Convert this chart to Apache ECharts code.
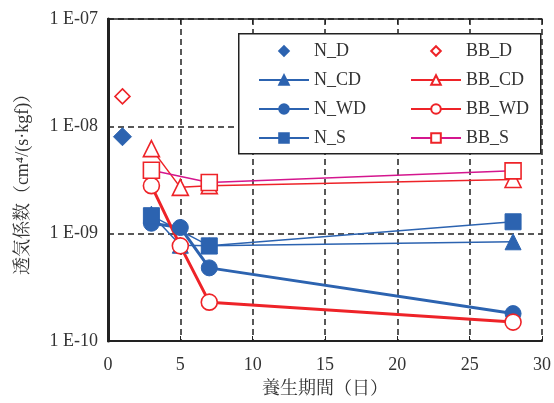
<!DOCTYPE html>
<html><head><meta charset="utf-8">
<script src="https://cdn.jsdelivr.net/npm/echarts@6/dist/echarts.min.js"></script>
<style>html,body{margin:0;padding:0;background:#fff}#c{width:554px;height:403px}</style>
</head><body><div id="c"></div>
<script>
// Data
const xTicks = [0, 5, 10, 15, 20, 25, 30];
const yTickLabels = ['1 E-10', '1 E-09', '1 E-08', '1 E-07'];
const daysD = [1];
const N_D = [8.0e-9];
const BB_D = [1.9e-8];
const daysCD = [3, 5, 7, 28];
const N_CD = [1.52e-9, 7.8e-10, 7.7e-10, 8.4e-10];
const BB_CD = [6.2e-9, 2.7e-9, 2.8e-9, 3.2e-9];
const daysWD = [3, 5, 7, 28];
const N_WD = [1.25e-9, 1.14e-9, 4.8e-10, 1.8e-10];
const BB_WD = [2.8e-9, 7.7e-10, 2.3e-10, 1.5e-10];
const daysS = [3, 7, 28];
const N_S = [1.47e-9, 7.7e-10, 1.29e-9];
const BB_S = [3.9e-9, 3.0e-9, 3.85e-9];

const BLUE = '#2c63b0', RED = '#ee2328', MAG = '#d4168e';
const FONT = '"Liberation Serif", "Noto Serif CJK JP", "Noto Sans CJK JP", serif';
const pairs = (xs, ys) => xs.map((x, i) => [x, ys[i]]);

function lineSeries(name, xs, ys, color, lw, symbol, filled, lineColor, size) {
  return {
    name, type: 'line', data: pairs(xs, ys), symbol, symbolSize: size || 16,
    lineStyle: lw > 0 ? { color: lineColor || color, width: lw } : { color: '#fff', width: 0, opacity: 0 },
    itemStyle: filled ? { color: color, borderColor: color, borderWidth: 1 }
                      : { color: '#fff', borderColor: color, borderWidth: 1.6 },
    emphasis: { disabled: true }, z: 3
  };
}

const chart = echarts.init(document.getElementById('c'), null, { renderer: 'canvas' });
const legendCommon = {
  orient: 'vertical', itemWidth: 50, itemHeight: 12, itemGap: 11,
  textStyle: { fontFamily: FONT, fontSize: 18, color: '#333' }, z: 20,
  selectedMode: false
};
chart.setOption({
  animation: false,
  grid: { left: 108, right: 11, top: 19, bottom: 61, containLabel: false },
  graphic: [{
    type: 'rect', left: 238, top: 33, z: 10,
    shape: { width: 302, height: 120 },
    style: { fill: '#fff', stroke: '#222', lineWidth: 1.5 }
  }],
  legend: [
    Object.assign({ left: 253, top: 37, data: ['N_D', 'N_CD', 'N_WD', 'N_S'] }, legendCommon),
    Object.assign({ left: 405, top: 37, data: ['BB_D', 'BB_CD', 'BB_WD', 'BB_S'] }, legendCommon)
  ],
  xAxis: [{
    type: 'value', min: xTicks[0], max: xTicks[xTicks.length - 1], interval: 5,
    name: '養生期間（日）', nameLocation: 'middle', nameGap: 39,
    nameTextStyle: { fontFamily: FONT, fontSize: 18, color: '#333' },
    axisLine: { lineStyle: { color: '#222', width: 2 } },
    axisTick: { inside: true, length: 5, lineStyle: { color: '#222' } },
    axisLabel: { fontFamily: FONT, fontSize: 18, color: '#333', margin: 15 },
    splitLine: { show: true, lineStyle: { color: '#222', type: [6, 4], width: 1.5 } }
  }, {
    type: 'value', position: 'top', min: 0, max: 30, interval: 5,
    axisLine: { show: true, lineStyle: { color: '#222', width: 1.5 } },
    axisTick: { inside: true, length: 5, lineStyle: { color: '#222' } },
    axisLabel: { show: false }, splitLine: { show: false }
  }],
  yAxis: [{
    type: 'log', logBase: 10, min: 1e-10, max: 1e-7,
    name: '透気係数（cm⁴/(s·kgf)）', nameLocation: 'middle', nameGap: 76,
    nameTextStyle: { fontFamily: FONT, fontSize: 18, color: '#333' },
    axisLine: { show: true, lineStyle: { color: '#222', width: 3 } },
    axisTick: { show: false },
    minorTick: { show: false },
    axisLabel: {
      fontFamily: FONT, fontSize: 18, color: '#333', margin: 10,
      formatter: v => yTickLabels[Math.round(Math.log10(v)) + 10]
    },
    splitLine: { show: true, lineStyle: { color: '#222', type: [6, 4], width: 1.5 } }
  }, {
    type: 'log', logBase: 10, min: 1e-10, max: 1e-7, position: 'right',
    axisLine: { show: true, lineStyle: { color: '#222', width: 2 } },
    axisTick: { show: false }, axisLabel: { show: false }, splitLine: { show: false }
  }],
  series: [
    lineSeries('N_D', daysD, N_D, BLUE, 0, 'diamond', true, null, 18),
    lineSeries('N_CD', daysCD, N_CD, BLUE, 1.5, 'triangle', true),
    lineSeries('N_WD', daysWD, N_WD, BLUE, 3, 'circle', true),
    lineSeries('N_S', daysS, N_S, BLUE, 1.5, 'rect', true),
    lineSeries('BB_D', daysD, BB_D, RED, 0, 'diamond', false, null, 15),
    lineSeries('BB_CD', daysCD, BB_CD, RED, 1.5, 'triangle', false),
    lineSeries('BB_WD', daysWD, BB_WD, RED, 3, 'circle', false),
    lineSeries('BB_S', daysS, BB_S, RED, 1.5, 'rect', false, MAG)
  ]
});
</script></body></html>
